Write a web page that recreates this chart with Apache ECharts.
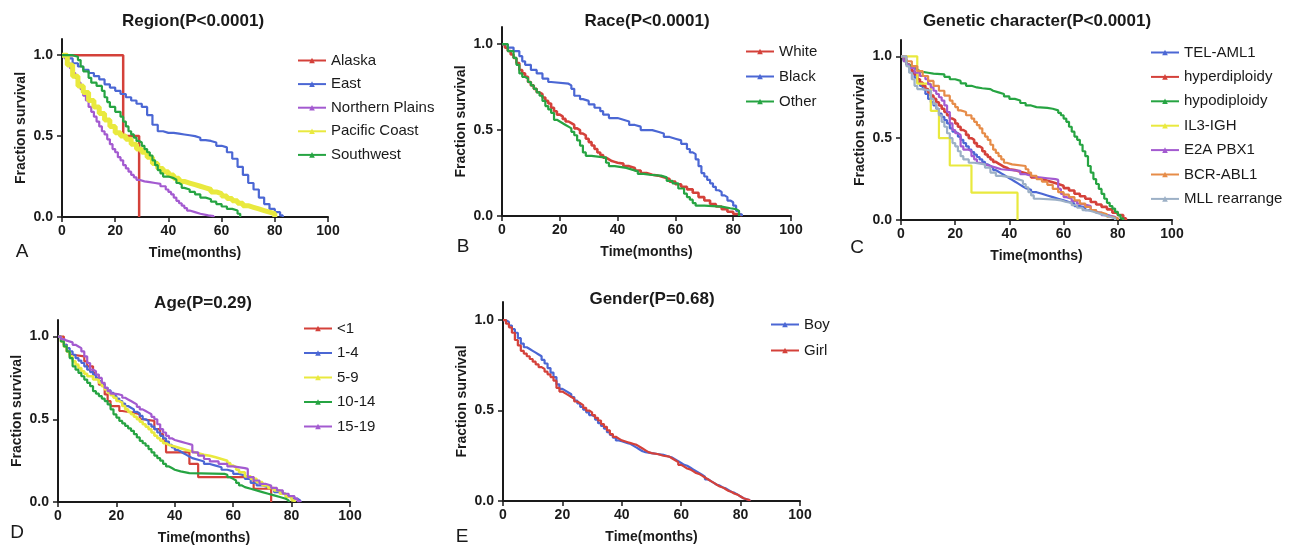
<!DOCTYPE html>
<html><head><meta charset="utf-8">
<script src="https://cdn.jsdelivr.net/npm/echarts@6/dist/echarts.min.js"></script>
<style>html,body{margin:0;padding:0;background:#fff}#c{width:1293px;height:551px}</style>
</head><body><div id="c"></div>
<script>
// ---------- tick labels ----------
const xTickMax = 100, xTickStep = 20;
const yTickValues = [0, 0.5, 1.0];

// ---------- panel titles / letters ----------
const panelTitles = ['Region(P<0.0001)', 'Race(P<0.0001)', 'Genetic character(P<0.0001)', 'Age(P=0.29)', 'Gender(P=0.68)'];
const panelLetters = ['A', 'B', 'C', 'D', 'E'];

// ---------- A: Region ----------
const regionNames = ['Alaska', 'East', 'Northern Plains', 'Pacific Coast', 'Southwest'];
const alaska = [[0,1],[23,0.5],[29,0]];
const east = [[0,1],[2,0.98],[4,0.95],[6,0.93],[8,0.91],[10,0.89],[12,0.87],[14,0.85],[16,0.82],[18,0.80],[20,0.78],[22,0.76],[24,0.74],[26,0.72],[28,0.70],[30,0.68],[32,0.63],[34,0.57],[36,0.53],[38,0.52],[40,0.52],[42,0.515],[44,0.51],[46,0.505],[48,0.50],[50,0.49],[52,0.475],[54,0.47],[56,0.46],[58,0.44],[60,0.43],[62,0.40],[64,0.36],[66,0.31],[68,0.26],[70,0.21],[72,0.17],[74,0.12],[76,0.08],[78,0.05],[80,0.03],[82,0.01],[83,0]];
const northernPlains = [[0,1],[1,0.98],[2,0.95],[3,0.92],[4,0.89],[5,0.86],[6,0.83],[7,0.79],[8,0.75],[9,0.72],[10,0.68],[11,0.65],[12,0.62],[13,0.59],[14,0.56],[15,0.53],[16,0.51],[17,0.48],[18,0.45],[19,0.42],[20,0.40],[21,0.37],[22,0.35],[23,0.32],[24,0.30],[25,0.28],[26,0.26],[27,0.245],[28,0.23],[29,0.22],[31,0.215],[33,0.21],[35,0.205],[37,0.19],[39,0.17],[40,0.155],[41,0.14],[42,0.12],[43,0.10],[44,0.085],[45,0.07],[46,0.055],[47,0.04],[48,0.03],[50,0.02],[52,0.01],[55,0.005],[57,0]];
const pacificCoast = [[0,1],[2,0.94],[4,0.87],[6,0.81],[8,0.77],[10,0.72],[12,0.68],[14,0.64],[16,0.60],[18,0.56],[20,0.52],[22,0.50],[24,0.48],[26,0.45],[28,0.42],[30,0.40],[32,0.37],[34,0.33],[36,0.30],[38,0.28],[40,0.26],[42,0.24],[44,0.22],[46,0.21],[48,0.20],[50,0.19],[52,0.18],[54,0.17],[56,0.155],[58,0.145],[60,0.13],[62,0.115],[64,0.10],[66,0.085],[68,0.07],[70,0.06],[72,0.05],[74,0.04],[76,0.03],[78,0.02],[80,0]];
const southwest = [[0,1],[4,0.99],[6,0.97],[7,0.93],[8,0.90],[10,0.86],[11,0.83],[13,0.81],[15,0.78],[16,0.74],[17,0.71],[18,0.68],[20,0.65],[22,0.62],[23,0.59],[24,0.56],[25,0.53],[26,0.51],[27,0.49],[28,0.47],[29,0.46],[30,0.44],[31,0.42],[32,0.40],[33,0.38],[34,0.35],[35,0.32],[36,0.29],[37,0.27],[38,0.25],[40,0.24],[42,0.23],[43,0.21],[44,0.20],[45,0.18],[46,0.17],[48,0.155],[50,0.14],[52,0.12],[54,0.11],[56,0.095],[58,0.08],[60,0.065],[62,0.05],[64,0.04],[66,0.02],[67,0]];

// ---------- B: Race ----------
const raceNames = ['White', 'Black', 'Other'];
const white = [[0,1],[1,0.98],[2,0.96],[3,0.94],[4,0.92],[5,0.89],[6,0.85],[7,0.83],[8,0.81],[9,0.78],[10,0.76],[11,0.74],[12,0.72],[13,0.71],[14,0.69],[15,0.67],[16,0.655],[17,0.63],[18,0.61],[19,0.59],[20,0.58],[21,0.565],[22,0.55],[23,0.54],[24,0.53],[25,0.51],[26,0.50],[27,0.48],[28,0.47],[29,0.45],[30,0.43],[31,0.41],[32,0.39],[33,0.37],[34,0.355],[35,0.34],[36,0.33],[37,0.32],[38,0.315],[39,0.31],[40,0.305],[42,0.29],[44,0.28],[46,0.265],[48,0.25],[50,0.24],[52,0.235],[54,0.225],[56,0.215],[58,0.20],[60,0.185],[62,0.17],[64,0.155],[66,0.135],[68,0.11],[70,0.09],[72,0.07],[74,0.055],[76,0.04],[78,0.025],[80,0.012],[82,0.003],[83,0]];
const black = [[0,1],[2,0.98],[4,0.96],[6,0.93],[7,0.90],[8,0.88],[10,0.85],[12,0.83],[14,0.80],[16,0.78],[17,0.77],[23,0.76],[24,0.74],[25,0.70],[27,0.68],[28,0.67],[30,0.65],[32,0.63],[34,0.61],[35,0.59],[37,0.57],[40,0.56],[42,0.55],[44,0.53],[46,0.52],[48,0.50],[52,0.49],[54,0.48],[56,0.46],[58,0.45],[60,0.44],[62,0.42],[64,0.39],[65,0.37],[66,0.36],[67,0.33],[68,0.29],[69,0.25],[70,0.23],[71,0.21],[72,0.19],[73,0.17],[74,0.15],[75,0.14],[76,0.12],[77,0.11],[78,0.09],[79,0.08],[80,0.06],[81,0.03],[82,0.01],[83,0]];
const other = [[0,1],[2,0.96],[4,0.92],[5,0.88],[6,0.83],[7,0.81],[8,0.80],[9,0.78],[10,0.76],[11,0.74],[12,0.72],[13,0.70],[14,0.67],[15,0.64],[16,0.62],[17,0.60],[18,0.56],[19,0.55],[20,0.54],[21,0.53],[22,0.52],[23,0.51],[24,0.49],[25,0.47],[26,0.44],[27,0.41],[28,0.37],[29,0.35],[31,0.34],[36,0.31],[37,0.29],[39,0.28],[43,0.27],[45,0.26],[47,0.245],[49,0.24],[51,0.235],[55,0.225],[57,0.205],[59,0.19],[61,0.16],[63,0.13],[64,0.11],[65,0.095],[66,0.075],[67,0.06],[70,0.055],[76,0.045],[79,0.04],[81,0.03],[82,0]];

// ---------- C: Genetic character ----------
const geneNames = ['TEL-AML1', 'hyperdiploidy', 'hypodiploidy', 'IL3-IGH', 'E2A PBX1', 'BCR-ABL1', 'MLL rearrange'];
const telAml1 = [[0,1],[1,0.98],[2,0.95],[3,0.93],[4,0.90],[5,0.87],[6,0.84],[7,0.82],[8,0.80],[9,0.77],[10,0.74],[11,0.72],[12,0.70],[13,0.68],[14,0.65],[15,0.63],[16,0.61],[17,0.59],[18,0.56],[19,0.54],[20,0.53],[21,0.51],[22,0.49],[23,0.47],[24,0.45],[25,0.43],[26,0.415],[27,0.40],[28,0.385],[29,0.37],[30,0.355],[31,0.34],[32,0.33],[33,0.32],[34,0.305],[35,0.295],[36,0.285],[37,0.275],[38,0.265],[39,0.255],[40,0.245],[41,0.235],[42,0.225],[43,0.215],[44,0.205],[45,0.195],[46,0.185],[48,0.17],[50,0.16],[52,0.15],[54,0.14],[56,0.13],[58,0.12],[60,0.11],[62,0.10],[64,0.085],[66,0.075],[68,0.06],[70,0.05],[72,0.04],[74,0.03],[76,0.02],[78,0.01],[80,0]];
const hyperdiploidy = [[0,1],[1,0.98],[2,0.95],[3,0.93],[4,0.91],[5,0.89],[6,0.86],[7,0.84],[8,0.82],[9,0.80],[10,0.78],[11,0.76],[12,0.74],[13,0.72],[14,0.70],[15,0.68],[16,0.66],[17,0.64],[18,0.62],[19,0.61],[20,0.59],[21,0.57],[22,0.55],[23,0.54],[24,0.52],[25,0.50],[26,0.49],[27,0.47],[28,0.45],[29,0.44],[30,0.42],[31,0.40],[32,0.385],[33,0.37],[34,0.355],[35,0.345],[36,0.335],[37,0.325],[38,0.32],[39,0.31],[40,0.305],[42,0.295],[44,0.285],[46,0.275],[48,0.26],[50,0.25],[52,0.24],[54,0.23],[56,0.22],[58,0.21],[60,0.195],[62,0.18],[64,0.16],[66,0.145],[68,0.13],[70,0.11],[72,0.095],[74,0.08],[76,0.065],[78,0.045],[80,0.03],[82,0.01],[83,0]];
const hypodiploidy = [[0,1],[1,0.97],[2,0.95],[3,0.94],[4,0.93],[5,0.92],[6,0.91],[7,0.905],[8,0.90],[10,0.895],[12,0.89],[16,0.875],[18,0.86],[20,0.85],[22,0.835],[24,0.82],[26,0.81],[28,0.805],[30,0.80],[33,0.79],[34,0.78],[36,0.77],[38,0.755],[40,0.74],[42,0.73],[44,0.715],[46,0.70],[48,0.69],[50,0.685],[54,0.68],[56,0.67],[58,0.655],[59,0.64],[60,0.62],[61,0.60],[62,0.57],[63,0.54],[64,0.51],[65,0.49],[66,0.46],[67,0.42],[68,0.39],[69,0.33],[70,0.29],[71,0.25],[72,0.22],[73,0.19],[74,0.16],[75,0.13],[76,0.105],[77,0.085],[78,0.07],[79,0.05],[80,0.03],[81,0.01],[82,0]];
const il3Igh = [[0,1],[6,0.833],[11,0.667],[14,0.5],[18,0.333],[26,0.167],[43,0]];
const e2aPbx1 = [[0,1],[1,0.97],[2,0.95],[3,0.93],[5,0.90],[7,0.88],[9,0.86],[10,0.83],[11,0.81],[12,0.79],[13,0.77],[14,0.75],[15,0.73],[16,0.70],[17,0.66],[18,0.59],[19,0.55],[20,0.53],[21,0.52],[22,0.45],[23,0.43],[25,0.42],[26,0.39],[27,0.37],[28,0.35],[29,0.34],[31,0.33],[33,0.32],[35,0.31],[37,0.30],[44,0.28],[46,0.27],[48,0.26],[51,0.255],[54,0.25],[57,0.245],[58,0.19],[59,0.16],[60,0.14],[61,0.13],[63,0.115],[65,0.10],[66,0.09],[69,0.085],[70,0.06],[72,0.045],[74,0.03],[76,0.02],[79,0]];
const bcrAbl1 = [[0,1],[2,0.97],[4,0.94],[6,0.91],[8,0.88],[10,0.85],[12,0.82],[14,0.79],[16,0.76],[18,0.73],[19,0.71],[20,0.69],[21,0.67],[22,0.66],[24,0.64],[26,0.62],[27,0.60],[28,0.58],[29,0.56],[30,0.53],[31,0.51],[32,0.49],[33,0.46],[34,0.43],[35,0.41],[36,0.39],[37,0.37],[38,0.35],[39,0.34],[41,0.33],[46,0.31],[47,0.29],[48,0.27],[50,0.25],[52,0.235],[54,0.215],[56,0.19],[58,0.17],[60,0.155],[62,0.14],[64,0.12],[66,0.10],[68,0.08],[70,0.06],[72,0.045],[74,0.035],[76,0.02],[78,0.01],[80,0]];
const mllRearrange = [[0,1],[2,0.94],[3,0.90],[4,0.86],[5,0.82],[6,0.80],[8,0.79],[11,0.74],[12,0.71],[13,0.68],[14,0.64],[15,0.60],[16,0.57],[17,0.53],[18,0.50],[19,0.47],[20,0.45],[21,0.42],[22,0.39],[23,0.37],[25,0.35],[27,0.34],[31,0.32],[33,0.29],[35,0.27],[37,0.265],[39,0.26],[41,0.25],[43,0.24],[45,0.22],[46,0.20],[47,0.17],[48,0.15],[49,0.13],[51,0.125],[57,0.12],[59,0.11],[61,0.105],[63,0.09],[65,0.075],[67,0.06],[69,0.05],[71,0.04],[73,0.03],[75,0.02],[77,0.01],[79,0]];

// ---------- D: Age ----------
const ageNames = ['<1', '1-4', '5-9', '10-14', '15-19'];
const ageLt1 = [[0,1],[2,0.95],[3,0.91],[4,0.89],[5,0.88],[9,0.85],[10,0.82],[12,0.78],[13,0.75],[14,0.71],[16,0.65],[17,0.61],[18,0.58],[21,0.55],[22,0.54],[26,0.53],[28,0.50],[29,0.49],[33,0.44],[35,0.41],[36,0.37],[37,0.30],[45,0.23],[48,0.15],[67,0.08],[73,0]];
const age1to4 = [[0,1],[1,0.98],[2,0.95],[3,0.93],[4,0.91],[5,0.89],[6,0.87],[7,0.855],[8,0.84],[9,0.82],[10,0.80],[11,0.785],[12,0.77],[13,0.75],[14,0.73],[15,0.71],[16,0.69],[17,0.675],[18,0.66],[19,0.64],[20,0.625],[21,0.61],[22,0.595],[23,0.58],[24,0.57],[25,0.56],[26,0.545],[27,0.535],[28,0.52],[29,0.50],[30,0.49],[31,0.47],[32,0.455],[33,0.44],[34,0.42],[35,0.40],[36,0.385],[37,0.365],[38,0.345],[39,0.33],[40,0.315],[41,0.305],[42,0.295],[43,0.285],[44,0.275],[45,0.265],[46,0.255],[48,0.245],[50,0.23],[52,0.22],[54,0.21],[56,0.195],[58,0.185],[60,0.17],[62,0.16],[64,0.14],[66,0.115],[68,0.10],[70,0.09],[72,0.08],[74,0.06],[76,0.05],[78,0.035],[80,0.02],[82,0.008],[83,0]];
const age5to9 = [[0,1],[1,0.97],[2,0.94],[3,0.91],[4,0.88],[5,0.85],[6,0.83],[7,0.81],[8,0.79],[9,0.775],[10,0.76],[12,0.74],[14,0.72],[15,0.70],[16,0.68],[17,0.66],[18,0.645],[19,0.63],[20,0.61],[21,0.60],[22,0.58],[23,0.56],[24,0.545],[25,0.53],[26,0.515],[27,0.50],[28,0.485],[29,0.47],[30,0.455],[31,0.44],[32,0.42],[33,0.40],[34,0.385],[35,0.37],[36,0.355],[37,0.345],[38,0.335],[40,0.325],[42,0.315],[44,0.305],[46,0.295],[48,0.285],[50,0.28],[52,0.27],[54,0.26],[56,0.25],[58,0.235],[59,0.22],[60,0.21],[61,0.195],[62,0.18],[64,0.155],[66,0.14],[68,0.12],[70,0.10],[72,0.085],[74,0.07],[76,0.05],[78,0.03],[80,0.01],[81,0]];
const age10to14 = [[0,1],[1,0.97],[2,0.94],[3,0.91],[4,0.87],[5,0.82],[6,0.80],[7,0.78],[8,0.76],[9,0.74],[10,0.72],[11,0.70],[12,0.67],[13,0.655],[14,0.64],[15,0.625],[16,0.61],[17,0.59],[18,0.56],[19,0.53],[20,0.51],[21,0.49],[22,0.475],[23,0.46],[24,0.445],[25,0.43],[26,0.41],[27,0.39],[28,0.37],[29,0.355],[30,0.34],[31,0.32],[32,0.30],[33,0.28],[34,0.265],[35,0.25],[36,0.23],[37,0.215],[38,0.205],[39,0.195],[40,0.185],[42,0.175],[45,0.17],[57,0.165],[58,0.15],[59,0.14],[60,0.13],[61,0.115],[62,0.10],[63,0.09],[64,0.08],[66,0.07],[68,0.06],[70,0.05],[72,0.04],[74,0.03],[76,0.02],[78,0.01],[79,0]];
const age15to19 = [[0,1],[1,0.985],[2,0.975],[3,0.965],[5,0.95],[6,0.94],[7,0.93],[8,0.91],[9,0.88],[10,0.84],[11,0.80],[12,0.79],[13,0.77],[14,0.75],[15,0.72],[16,0.69],[17,0.67],[18,0.655],[19,0.65],[21,0.645],[22,0.63],[23,0.62],[24,0.61],[25,0.60],[26,0.59],[27,0.575],[28,0.56],[29,0.55],[30,0.54],[31,0.53],[32,0.515],[33,0.50],[34,0.47],[35,0.44],[36,0.42],[37,0.40],[38,0.385],[39,0.375],[40,0.365],[42,0.355],[44,0.345],[46,0.30],[48,0.28],[50,0.26],[52,0.245],[55,0.23],[58,0.215],[60,0.205],[64,0.20],[65,0.15],[67,0.13],[69,0.11],[71,0.10],[73,0.085],[75,0.07],[77,0.05],[79,0.035],[81,0.02],[82,0.005],[83,0]];

// ---------- E: Gender ----------
const genderNames = ['Boy', 'Girl'];
const boy = [[0,1],[1,0.99],[2,0.97],[3,0.95],[4,0.93],[5,0.90],[6,0.87],[7,0.85],[8,0.84],[9,0.83],[10,0.82],[11,0.81],[12,0.80],[13,0.78],[14,0.76],[15,0.735],[16,0.71],[17,0.685],[18,0.645],[19,0.62],[20,0.61],[21,0.60],[22,0.59],[23,0.575],[24,0.555],[25,0.54],[26,0.52],[27,0.505],[28,0.49],[29,0.475],[30,0.465],[31,0.45],[32,0.43],[33,0.415],[34,0.40],[35,0.38],[36,0.365],[37,0.35],[38,0.335],[39,0.33],[40,0.325],[41,0.32],[42,0.315],[43,0.305],[44,0.295],[45,0.285],[46,0.275],[47,0.27],[48,0.265],[50,0.26],[52,0.255],[54,0.25],[55,0.245],[56,0.24],[57,0.23],[58,0.22],[59,0.21],[60,0.20],[61,0.195],[62,0.185],[63,0.175],[64,0.165],[65,0.155],[66,0.145],[67,0.135],[68,0.12],[69,0.11],[70,0.10],[71,0.09],[72,0.085],[73,0.075],[74,0.07],[75,0.06],[76,0.05],[77,0.045],[78,0.035],[79,0.025],[80,0.015],[81,0.01],[82,0.005],[83,0]];
const girl = [[0,1],[1,0.98],[2,0.96],[3,0.93],[4,0.89],[5,0.86],[6,0.83],[7,0.815],[8,0.80],[9,0.785],[10,0.77],[11,0.755],[12,0.74],[13,0.73],[14,0.715],[15,0.70],[16,0.685],[17,0.665],[18,0.625],[19,0.605],[20,0.595],[21,0.585],[22,0.575],[23,0.565],[24,0.55],[25,0.54],[26,0.53],[27,0.515],[28,0.50],[29,0.49],[30,0.475],[31,0.46],[32,0.445],[33,0.425],[34,0.41],[35,0.39],[36,0.37],[37,0.355],[38,0.345],[39,0.335],[40,0.33],[41,0.325],[42,0.32],[43,0.315],[44,0.31],[45,0.30],[46,0.29],[47,0.28],[48,0.27],[49,0.265],[50,0.26],[52,0.25],[54,0.245],[56,0.235],[57,0.225],[58,0.215],[59,0.20],[60,0.19],[61,0.18],[62,0.175],[63,0.165],[64,0.155],[65,0.15],[66,0.14],[67,0.13],[68,0.12],[69,0.11],[70,0.10],[71,0.09],[72,0.08],[73,0.075],[74,0.065],[75,0.055],[76,0.05],[77,0.04],[78,0.035],[79,0.025],[80,0.015],[81,0.01],[82,0.005],[83,0]];

// ---------- styling ----------
const C = {red:'#d4413a', blue:'#4b67d4', purple:'#a35ad0', yellow:'#e9e93e', green:'#26a442', orange:'#e68c48', gray:'#9cb0c6'};
const FONT = "'Liberation Sans', Arial, sans-serif";
const TXT = '#1a1a1a';

const panels = [
  {grid:{left:62, top:39, width:266, height:178}, title:[193,13], letter:[22,252], legend:{left:297, top:53, gap:8.6},
   series:[[regionNames[0], alaska, C.red, 2.5],[regionNames[1], east, C.blue, 2.2],[regionNames[2], northernPlains, C.purple, 2.2],[regionNames[3], pacificCoast, C.yellow, 5],[regionNames[4], southwest, C.green, 2.2]]},
  {grid:{left:502, top:27, width:289, height:189}, title:[647,13], letter:[463,247], legend:{left:745, top:44, gap:10},
   series:[[raceNames[0], white, C.red, 2.6],[raceNames[1], black, C.blue, 2.2],[raceNames[2], other, C.green, 2.2]]},
  {grid:{left:901, top:40, width:271, height:180}, title:[1037,13], letter:[857,248], legend:{left:1150, top:45, gap:9.4},
   series:[[geneNames[0], telAml1, C.blue, 2.2],[geneNames[1], hyperdiploidy, C.red, 2.6],[geneNames[2], hypodiploidy, C.green, 2.2],[geneNames[3], il3Igh, C.yellow, 2.2],[geneNames[4], e2aPbx1, C.purple, 2.2],[geneNames[5], bcrAbl1, C.orange, 2.2],[geneNames[6], mllRearrange, C.gray, 2.2]]},
  {grid:{left:58, top:320, width:292, height:182}, title:[203,295], letter:[17,533], legend:{left:303, top:321, gap:9.5},
   series:[[ageNames[0], ageLt1, C.red, 2.2],[ageNames[1], age1to4, C.blue, 2.2],[ageNames[2], age5to9, C.yellow, 2.6],[ageNames[3], age10to14, C.green, 2.2],[ageNames[4], age15to19, C.purple, 2.2]]},
  {grid:{left:503, top:302, width:297, height:199}, title:[652,291], letter:[462,537], legend:{left:770, top:317, gap:11},
   series:[[genderNames[0], boy, C.blue, 2.2],[genderNames[1], girl, C.red, 2.2]]}
];

const option = {
  animation:false,
  backgroundColor:'#fff',
  textStyle:{fontFamily:FONT},
  title:[], grid:[], xAxis:[], yAxis:[], legend:[], series:[], graphic:[]
};

panels.forEach((p, i) => {
  option.title.push({text:panelTitles[i], left:p.title[0], top:p.title[1], textAlign:'center', padding:0,
    textStyle:{fontSize:17, fontWeight:'bold', color:TXT, fontFamily:FONT}});
  option.grid.push(Object.assign({containLabel:false}, p.grid));
  option.xAxis.push({type:'value', gridIndex:i, min:0, max:xTickMax, interval:xTickStep,
    axisLine:{show:true, onZero:false, lineStyle:{color:TXT, width:2}},
    axisTick:{show:true, length:5, lineStyle:{color:TXT, width:1.5}},
    axisLabel:{fontSize:14, fontWeight:'bold', color:TXT, margin:7, fontFamily:FONT},
    splitLine:{show:false},
    name:'Time(months)', nameLocation:'middle', nameGap:29,
    nameTextStyle:{fontSize:14, fontWeight:'bold', color:TXT, fontFamily:FONT}});
  option.yAxis.push({type:'value', gridIndex:i, min:0, max:1.1, interval:0.5,
    axisLine:{show:true, onZero:false, lineStyle:{color:TXT, width:2}},
    axisTick:{show:true, length:5, lineStyle:{color:TXT, width:1.5}, customValues:yTickValues},
    axisLabel:{fontSize:14, fontWeight:'bold', color:TXT, margin:9, fontFamily:FONT, customValues:yTickValues,
      formatter:v => (v > 1.05 ? '' : v.toFixed(1))},
    splitLine:{show:false},
    name:'Fraction survival', nameLocation:'middle', nameGap:34,
    nameTextStyle:{fontSize:14, fontWeight:'bold', color:TXT, fontFamily:FONT}});
  option.legend.push({data:p.series.map(s => s[0]), orient:'vertical', left:p.legend.left, top:p.legend.top,
    padding:0, itemWidth:28, itemHeight:7, itemGap:p.legend.gap, selectedMode:false,
    lineStyle:{width:2},
    textStyle:{fontSize:15, color:TXT, lineHeight:15, fontFamily:FONT}});
  p.series.forEach(s => {
    option.series.push({type:'line', name:s[0], xAxisIndex:i, yAxisIndex:i, data:s[1], step:'end',
      symbol:'triangle', symbolSize:5, showSymbol:false, silent:true,
      lineStyle:{color:s[2], width:s[3]}, itemStyle:{color:s[2]}});
  });
  option.graphic.push({type:'text', x:p.letter[0], y:p.letter[1],
    style:{text:panelLetters[i], fontSize:19, fill:TXT, fontFamily:FONT, textAlign:'center', textVerticalAlign:'middle'}});
});

const chart = echarts.init(document.getElementById('c'), null, {renderer:'canvas'});
chart.setOption(option);
</script>
</body></html>
